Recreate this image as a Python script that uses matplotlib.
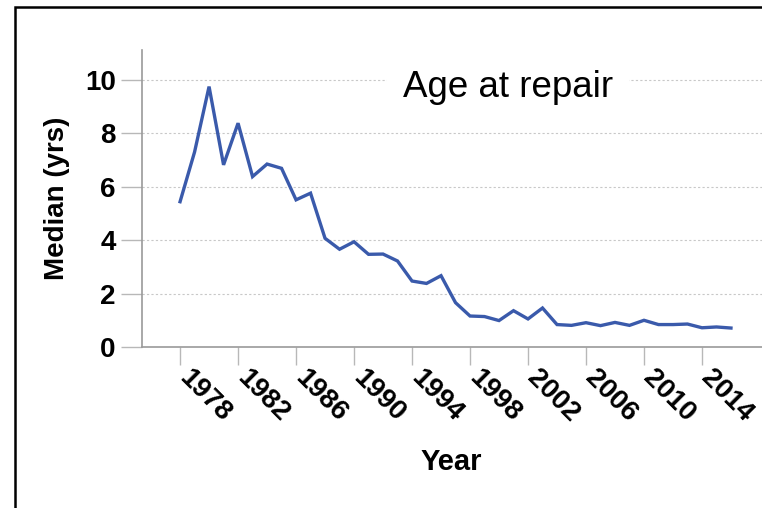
import matplotlib
matplotlib.use("Agg")
import matplotlib.pyplot as plt
import matplotlib.transforms as mtransforms
from matplotlib.patches import Rectangle

years = list(range(1978, 2017))
median_age = [5.44, 7.3, 9.75, 6.82, 8.38, 6.38, 6.85, 6.69, 5.51, 5.76,
              4.07, 3.66, 3.94, 3.47, 3.48, 3.22, 2.47, 2.38, 2.67, 1.66,
              1.16, 1.14, 0.99, 1.36, 1.05, 1.46, 0.84, 0.81, 0.91, 0.80,
              0.92, 0.81, 1.00, 0.84, 0.84, 0.86, 0.72, 0.75, 0.71]
xtick_years = list(range(1978, 2015, 4))
yticks = [0, 2, 4, 6, 8, 10]
title = "Age at repair"

plt.rcParams['font.family'] = ['Liberation Sans', 'DejaVu Sans']

W, H = 762, 508
fig = plt.figure(figsize=(W / 100, H / 100), dpi=100)
ax = fig.add_axes([141.5 / W, 1 - 347 / H, 1 - 141.5 / W, (347 - 50) / H])

ax.plot(years, median_age, color='#3a5aab', lw=2.4, solid_joinstyle='miter', zorder=3)

ax.set_xlim(1975.34, 2018.14)
ax.set_ylim(0, 11.12)
ax.set_xticks(xtick_years)
ax.set_xticklabels([str(y) for y in xtick_years], rotation=-45, ha='left', va='top',
                   rotation_mode='anchor', fontsize=20, fontweight='bold')
ax.set_yticks(yticks)
ax.set_yticklabels([str(v) for v in yticks], fontsize=20, fontweight='bold')
ax.tick_params(axis='x', length=13, width=1, color='#b8b8b8', pad=1)
ax.tick_params(axis='y', length=15, width=1, color='#b8b8b8', pad=3.6)

offset = mtransforms.ScaledTranslation(12 / 100, 2 / 100, fig.dpi_scale_trans)
for lbl in ax.get_xticklabels():
    lbl.set_transform(lbl.get_transform() + offset)

for s in ['top', 'right']:
    ax.spines[s].set_visible(False)
for s in ['left', 'bottom']:
    ax.spines[s].set_color('#9a9a9a')
    ax.spines[s].set_linewidth(1.2)

ax.yaxis.grid(True, color='#c8c8c8', linestyle=(0, (2, 2)), linewidth=0.8)
ax.set_axisbelow(True)

ax.set_ylabel("Median (yrs)", fontsize=20, fontweight='bold', labelpad=11)
ax.set_xlabel("Year", fontsize=21, fontweight='bold', labelpad=15)

fig.text(508 / W, 1 - 97 / H, title, ha='center', va='baseline', fontsize=26.5,
         bbox=dict(facecolor='white', edgecolor='none', pad=11), zorder=4)

fig.patches.append(Rectangle((15 / W, -0.5), 2.0, 1.5 - 7 / H, transform=fig.transFigure,
                             fill=False, edgecolor='black', linewidth=1.8, figure=fig))

fig.savefig("out.png", dpi=100)
